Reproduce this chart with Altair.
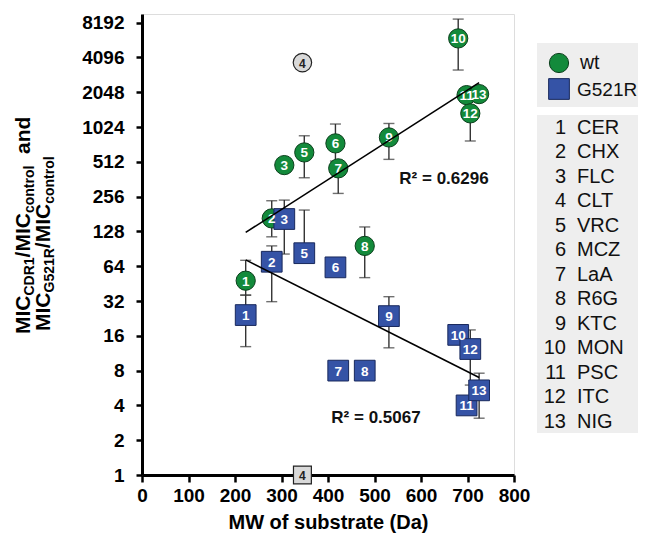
import altair as alt
import pandas as pd

# ---------------- data ----------------
ids = list(range(1, 14))
names = ["CER", "CHX", "FLC", "CLT", "VRC", "MCZ", "LaA", "R6G", "KTC", "MON", "PSC", "ITC", "NIG"]
mw = [223, 279, 306, 345, 349, 416, 422, 479, 531, 680, 698, 706, 725]

wt_ratio = [48, 166, 480, 3700, 618, 740, 450, 96, 833, 5990, 1935, 1345, 1975]
wt_lo = [36, 115, None, None, 373, 520, 273, 51, 538, 3190, None, 776, None]
wt_hi = [72, 236, None, None, 861, 1088, None, 140, 1100, 8800, None, None, None]

g_ratio = [24.2, 70, 164, 1, 83, 62.6, 8, 8, 23.7, 16.3, 4.0, 12.3, 5.4]
g_lo = [12.9, 31.6, 81.6, None, None, None, None, None, 12.6, None, None, 6, 3.1]
g_hi = [36, 96, 239, None, 196, None, None, None, 34.9, None, None, 18, 7.6]

strains = ["wt", "G521R"]
r2_labels = ["R² = 0.6296", "R² = 0.5067"]
excluded = "CLT"

# ---------------- tables ----------------
rows, caps = [], []
for i in range(13):
    for strain, r, lo, hi in (("wt", wt_ratio[i], wt_lo[i], wt_hi[i]),
                              ("G521R", g_ratio[i], g_lo[i], g_hi[i])):
        rows.append(dict(id=ids[i], label=str(ids[i]), name=names[i], mw=mw[i], ratio=r,
                         lo=r if lo is None else lo, hi=r if hi is None else hi, strain=strain))
        for v in (lo, hi):
            if v is not None:
                caps.append(dict(mw=mw[i], v=v, strain=strain))
df = pd.DataFrame(rows)
caps_df = pd.DataFrame(caps)
list_df = pd.DataFrame({"id": ids, "name": names})
dummy = pd.DataFrame({"a": [0]})

FONT = "Liberation Sans"
GREEN, GREEN_S = "#138a3b", "#0b3f1c"
BLUE, BLUE_S = "#3553a6", "#18285c"
GRAY = "#d9d9d9"

xs = alt.Scale(domain=[0, 800], nice=False, zero=False)
ys = alt.Scale(type="log", base=2, domain=[1, 9740], nice=False)
xaxis = alt.Axis(values=list(range(0, 801, 100)), title="MW of substrate (Da)", grid=False, format="d",
                 domainColor="black", domainWidth=3, tickColor="black", tickWidth=2.5, tickSize=7,
                 labelFont=FONT, labelFontSize=19, labelFontWeight="bold", labelColor="black",
                 labelPadding=4, labelFlush=False,
                 titleFont=FONT, titleFontSize=20, titleFontWeight="bold", titleColor="black",
                 titlePadding=7)
yaxis = alt.Axis(values=[2 ** k for k in range(14)], title=None, grid=False, format="d",
                 domainColor="black", domainWidth=3, tickColor="black", tickWidth=2.5, tickSize=6,
                 labelFont=FONT, labelFontSize=19, labelFontWeight="bold", labelColor="black",
                 labelPadding=12, labelFlush=False)


def X(f):
    return alt.X(f, type="quantitative", scale=xs, axis=xaxis)


def Y(f):
    return alt.Y(f, type="quantitative", scale=ys, axis=yaxis)


base = alt.Chart(df)
main = base.transform_filter(f"datum.name != '{excluded}'")

err = main.mark_rule(color="#333333", strokeWidth=1.4).encode(x=X("mw"), y=Y("lo"), y2="hi")
cap = alt.Chart(caps_df).mark_tick(orient="horizontal", color="#333333", size=11, thickness=1.4).encode(
    x=X("mw"), y=Y("v"))

wt_pts = main.transform_filter("datum.strain == 'wt'").mark_point(
    shape="circle", filled=True, size=370, fill=GREEN, stroke=GREEN_S, strokeWidth=1, opacity=1
).encode(x=X("mw"), y=Y("ratio"))
g_pts = main.transform_filter("datum.strain == 'G521R'").mark_point(
    shape="square", filled=True, size=430, fill=BLUE, stroke=BLUE_S, strokeWidth=1, opacity=1
).encode(x=X("mw"), y=Y("ratio"))
clt = base.transform_filter(f"datum.name == '{excluded}'")
clt_c = clt.transform_filter("datum.strain == 'wt'").mark_point(
    shape="circle", filled=True, size=340, fill=GRAY, stroke="#222", strokeWidth=1.2, opacity=1
).encode(x=X("mw"), y=Y("ratio"))
clt_s = clt.transform_filter("datum.strain == 'G521R'").mark_point(
    shape="square", filled=True, size=320, fill=GRAY, stroke="#222", strokeWidth=1.2, opacity=1
).encode(x=X("mw"), y=Y("ratio"))

txt = main.mark_text(font=FONT, fontSize=13.5, fontWeight="bold", color="white", baseline="middle", dy=1).encode(
    x=X("mw"), y=Y("ratio"), text="label:N")
clt_txt = clt.mark_text(font=FONT, fontSize=12, fontWeight="bold", color="#222", baseline="middle", dy=1).encode(
    x=X("mw"), y=Y("ratio"), text="label:N")

reg = main.transform_calculate(l2="log(datum.ratio) / LN2").transform_regression(
    "mw", "l2", groupby=["strain"]).transform_calculate(fit="pow(2, datum.l2)").mark_line(
    color="black", strokeWidth=1.6).encode(x=X("mw"), y=Y("fit"), detail="strain:N")

r2a = alt.Chart(dummy).mark_text(text=r2_labels[0], font=FONT, fontSize=17, fontWeight="bold",
                                 color="#111", baseline="middle").encode(x=alt.value(302), y=alt.value(165))
r2b = alt.Chart(dummy).mark_text(text=r2_labels[1], font=FONT, fontSize=17, fontWeight="bold",
                                 color="#111", baseline="middle").encode(x=alt.value(234), y=alt.value(404))

# ---------------- legend panels ----------------
box1 = alt.Chart(dummy).mark_rect(color="#eeeeee").encode(
    x=alt.value(395), x2=alt.value(500), y=alt.value(29), y2=alt.value(93))
box2 = alt.Chart(dummy).mark_rect(color="#eeeeee").encode(
    x=alt.value(395), x2=alt.value(500), y=alt.value(101), y2=alt.value(419))
leg_c = alt.Chart(dummy).mark_point(shape="circle", filled=True, size=370, fill=GREEN, stroke=GREEN_S,
                                    strokeWidth=1, opacity=1).encode(x=alt.value(417), y=alt.value(49))
leg_s = alt.Chart(dummy).mark_point(shape="square", filled=True, size=430, fill=BLUE, stroke=BLUE_S,
                                    strokeWidth=1, opacity=1).encode(x=alt.value(417), y=alt.value(75))
leg_t1 = alt.Chart(dummy).mark_text(text=strains[0], font=FONT, fontSize=19.5, align="left", baseline="middle",
                                    color="#111").encode(x=alt.value(438), y=alt.value(49))
leg_t2 = alt.Chart(dummy).mark_text(text=strains[1], font=FONT, fontSize=19, align="left", baseline="middle",
                                    color="#111").encode(x=alt.value(435), y=alt.value(76))

lst = alt.Chart(list_df).transform_calculate(py="113.7 + 24.5 * (datum.id - 1)")
lst_num = lst.mark_text(font=FONT, fontSize=20, align="right", baseline="middle", color="#111").encode(
    x=alt.value(424), y=alt.Y("py:Q", scale=None, axis=None), text="id:N")
lst_name = lst.mark_text(font=FONT, fontSize=20, align="left", baseline="middle", color="#111").encode(
    x=alt.value(435), y=alt.Y("py:Q", scale=None, axis=None), text="name:N")

# ---------------- y title with subscripts ----------------
AW = {'M': .833, 'I': .278, 'C': .722, 'D': .722, 'R': .722, '1': .556, '/': .278, 'c': .556,
      'o': .611, 'n': .611, 't': .333, 'r': .389, 'l': .278, ' ': .278, 'a': .556, 'd': .611,
      'G': .778, '5': .556, '2': .556}
F, S = 21, 14
title_lines = [
    [("MIC", 0), ("CDR1", 1), ("/MIC", 0), ("control", 1), ("  and", 0)],
    [("MIC", 0), ("G521R", 1), ("/MIC", 0), ("control", 1)],
]
line_x = [-112, -92]
line_y0 = [320, 317]
title_layers = []
for li, segs in enumerate(title_lines):
    y = line_y0[li]
    for s, sub in segs:
        size = S if sub else F
        w = sum(AW[c] for c in s) * size
        t = s.lstrip(" ")
        lead = (len(s) - len(t)) * AW[' '] * size
        title_layers.append(
            alt.Chart(dummy).mark_text(text=t, font=FONT, fontSize=size, fontWeight="bold", angle=270,
                                       align="left", baseline="alphabetic", color="black").encode(
                x=alt.value(line_x[li] + (4 if sub else 0)), y=alt.value(y - lead)))
        y -= w

chart = alt.layer(
    box1, box2, err, cap, wt_pts, g_pts, clt_c, clt_s, txt, clt_txt, reg, r2a, r2b,
    leg_c, leg_s, leg_t1, leg_t2, lst_num, lst_name, *title_layers
).properties(
    width=372, height=461,
    autosize=alt.AutoSizeParams(type="none"),
    padding={"left": 134, "top": 6, "right": 124, "bottom": 59},
).configure_view(stroke=None).configure(background="white")

chart.save("out.html", embed_options={"renderer": "svg", "actions": False})
